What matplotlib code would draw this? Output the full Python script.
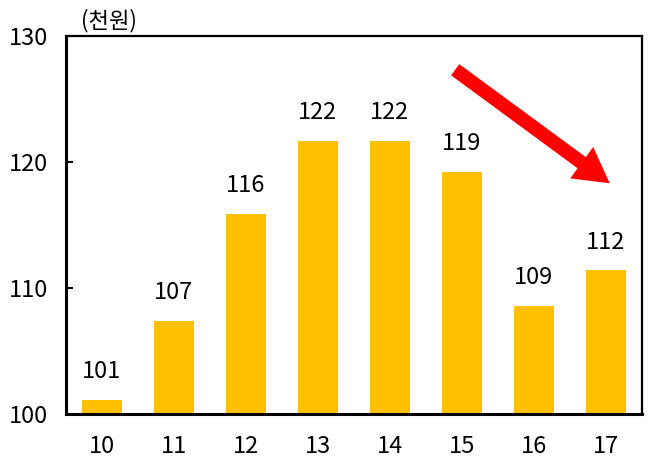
import matplotlib
matplotlib.use("Agg")
import matplotlib.pyplot as plt
from matplotlib.patches import FancyArrowPatch

plt.rcParams["font.family"] = ["Noto Sans CJK KR", "DejaVu Sans"]

years = ["10", "11", "12", "13", "14", "15", "16", "17"]
values = [101.1, 107.4, 115.9, 121.7, 121.7, 119.2, 108.6, 111.4]
value_labels = ["101", "107", "116", "122", "122", "119", "109", "112"]

fig = plt.figure(figsize=(6.5, 4.61), dpi=100)
ax = fig.add_axes([0.1015, 0.102, 0.886, 0.820])

x = range(len(years))
bars = ax.bar(x, [v - 100 for v in values], bottom=100, width=0.56, color="#FFC000")

for i, (v, lab) in enumerate(zip(values, value_labels)):
    ax.annotate(lab, (i, v), textcoords="offset points", xytext=(0, 12),
                ha="center", va="bottom", fontsize=17, color="black")

ax.set_xlim(-0.5, len(years) - 0.5)
ax.set_ylim(100, 130)
ax.set_yticks([100, 110, 120, 130])
ax.set_xticks(list(x))
ax.set_xticklabels(years)
ax.tick_params(axis="y", direction="in", length=5, width=1.5, pad=13, labelsize=17)
ax.tick_params(axis="x", length=0, pad=15, labelsize=17)

for side in ["left", "bottom"]:
    ax.spines[side].set_linewidth(2.2)
for side in ["top", "right"]:
    ax.spines[side].set_linewidth(1.6)

fig.text(0.124, 0.955, "(천원)", fontsize=16, ha="left", va="center")

arrow = FancyArrowPatch((0.672, 0.915), (0.948, 0.606), transform=ax.transAxes,
                        arrowstyle="simple,head_length=25,head_width=28,tail_width=10",
                        mutation_scale=1, color="#FF0000", lw=0)
ax.add_patch(arrow)

plt.savefig("out.png", dpi=100)
